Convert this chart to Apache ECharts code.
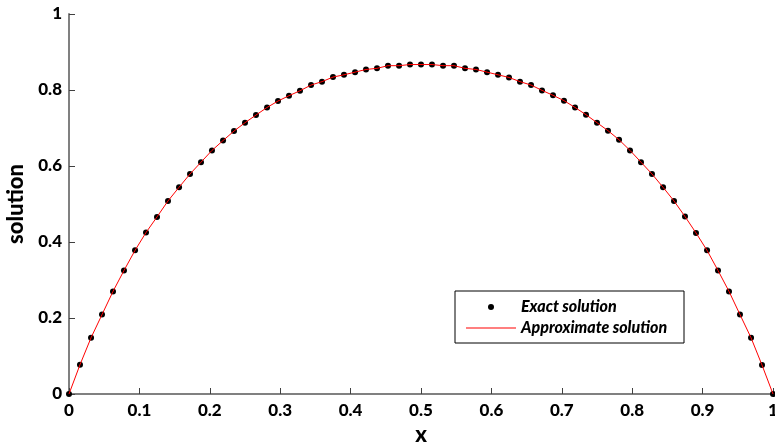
<!DOCTYPE html>
<html>
<head>
<meta charset="utf-8">
<script src="https://cdn.jsdelivr.net/npm/echarts@6/dist/echarts.min.js"></script>
<style>
html,body{margin:0;padding:0;background:#fff;}
#chart{width:775px;height:448px;}
</style>
</head>
<body>
<div id="chart"></div>
<script>
const xValues = [0, 0.0156, 0.0313, 0.0469, 0.0625, 0.0781, 0.0938, 0.1094, 0.125, 0.1406, 0.1563, 0.1719, 0.1875, 0.2031, 0.2188, 0.2344, 0.25, 0.2656, 0.2813, 0.2969, 0.3125, 0.3281, 0.3438, 0.3594, 0.375, 0.3906, 0.4063, 0.4219, 0.4375, 0.4531, 0.4688, 0.4844, 0.5, 0.5156, 0.5313, 0.5469, 0.5625, 0.5781, 0.5938, 0.6094, 0.625, 0.6406, 0.6563, 0.6719, 0.6875, 0.7031, 0.7188, 0.7344, 0.75, 0.7656, 0.7813, 0.7969, 0.8125, 0.8281, 0.8438, 0.8594, 0.875, 0.8906, 0.9063, 0.9219, 0.9375, 0.9531, 0.9688, 0.9844, 1];
const exactValues = [0, 0.077, 0.148, 0.209, 0.270, 0.325, 0.378, 0.425, 0.466, 0.508, 0.544, 0.579, 0.610, 0.641, 0.667, 0.692, 0.714, 0.734, 0.754, 0.771, 0.785, 0.798, 0.813, 0.822, 0.834, 0.840, 0.847, 0.854, 0.857, 0.864, 0.864, 0.867, 0.867, 0.867, 0.864, 0.864, 0.857, 0.854, 0.847, 0.840, 0.833, 0.822, 0.813, 0.799, 0.786, 0.772, 0.754, 0.735, 0.714, 0.693, 0.669, 0.641, 0.610, 0.579, 0.544, 0.508, 0.467, 0.424, 0.378, 0.325, 0.270, 0.209, 0.148, 0.076, 0];
const approxValues = [0, 0.077, 0.148, 0.209, 0.270, 0.325, 0.378, 0.425, 0.466, 0.508, 0.544, 0.579, 0.610, 0.641, 0.667, 0.692, 0.714, 0.734, 0.754, 0.771, 0.785, 0.798, 0.813, 0.822, 0.834, 0.840, 0.847, 0.854, 0.857, 0.864, 0.864, 0.867, 0.867, 0.867, 0.864, 0.864, 0.857, 0.854, 0.847, 0.840, 0.833, 0.822, 0.813, 0.799, 0.786, 0.772, 0.754, 0.735, 0.714, 0.693, 0.669, 0.641, 0.610, 0.579, 0.544, 0.508, 0.467, 0.424, 0.378, 0.325, 0.270, 0.209, 0.148, 0.076, 0];
const seriesNames = ['Exact solution', 'Approximate solution'];
const xTickLabels = ['0', '0.1', '0.2', '0.3', '0.4', '0.5', '0.6', '0.7', '0.8', '0.9', '1'];
const yTickLabels = ['0', '0.2', '0.4', '0.6', '0.8', '1'];

const FONT = 'Lato, "Liberation Sans", sans-serif';
const chart = echarts.init(document.getElementById('chart'), null, {renderer: 'canvas'});

const exactData = xValues.map((x, i) => [x, exactValues[i]]);
const approxData = xValues.map((x, i) => [x, approxValues[i]]);

chart.setOption({
  animation: false,
  backgroundColor: '#ffffff',
  grid: {left: 69, right: 2, top: 14, bottom: 54, containLabel: false, outerBoundsMode: 'none'},
  legend: {
    orient: 'vertical',
    left: 455, top: 291,
    padding: [8, 11, 7, 11],
    borderColor: '#000', borderWidth: 1,
    itemWidth: 50, itemHeight: 6, itemGap: 5,
    textStyle: {fontFamily: FONT, fontWeight: 900, fontStyle: 'italic', fontSize: 16, color: '#000', lineHeight: 16, width: 152},
    data: [
      {name: seriesNames[0], icon: 'circle', itemStyle: {color: '#000', opacity: 1}},
      {name: seriesNames[1], icon: 'path://M0,0L50,0L50,1L0,1Z', itemStyle: {color: '#ff0000'}}
    ]
  },
  xAxis: {
    type: 'value', min: 0, max: 1, interval: 0.1,
    name: 'x', nameLocation: 'middle', nameGap: 22,
    nameTextStyle: {fontFamily: FONT, fontWeight: 900, fontSize: 22, color: '#000'},
    axisLine: {show: true, lineStyle: {color: '#808080', width: 2}},
    axisTick: {show: true, inside: true, length: 6, lineStyle: {color: '#404040', width: 1}},
    axisLabel: {
      fontFamily: FONT, fontWeight: 900, fontSize: 17, color: '#000', margin: 8,
      formatter: (v) => xTickLabels[Math.round(v * 10)]
    },
    splitLine: {show: false}
  },
  yAxis: {
    type: 'value', min: 0, max: 1, interval: 0.2,
    name: 'solution', nameLocation: 'middle', nameGap: 42, nameRotate: 90,
    nameTextStyle: {fontFamily: FONT, fontWeight: 900, fontSize: 22, color: '#000'},
    axisLine: {show: true, lineStyle: {color: '#808080', width: 2}},
    axisTick: {show: true, inside: true, length: 6, lineStyle: {color: '#404040', width: 1}},
    axisLabel: {
      fontFamily: FONT, fontWeight: 900, fontSize: 17, color: '#000', margin: 7,
      formatter: (v) => yTickLabels[Math.round(v * 5)]
    },
    splitLine: {show: false}
  },
  series: [
    {
      name: seriesNames[0], type: 'scatter', data: exactData,
      symbol: 'circle', symbolSize: 6,
      itemStyle: {color: '#000', opacity: 1}, z: 2
    },
    {
      name: seriesNames[1], type: 'line', data: approxData,
      showSymbol: false, symbol: 'none', smooth: false,
      lineStyle: {color: '#ff0000', width: 1}, itemStyle: {color: '#ff0000'}, z: 3
    }
  ]
});
</script>
</body>
</html>
